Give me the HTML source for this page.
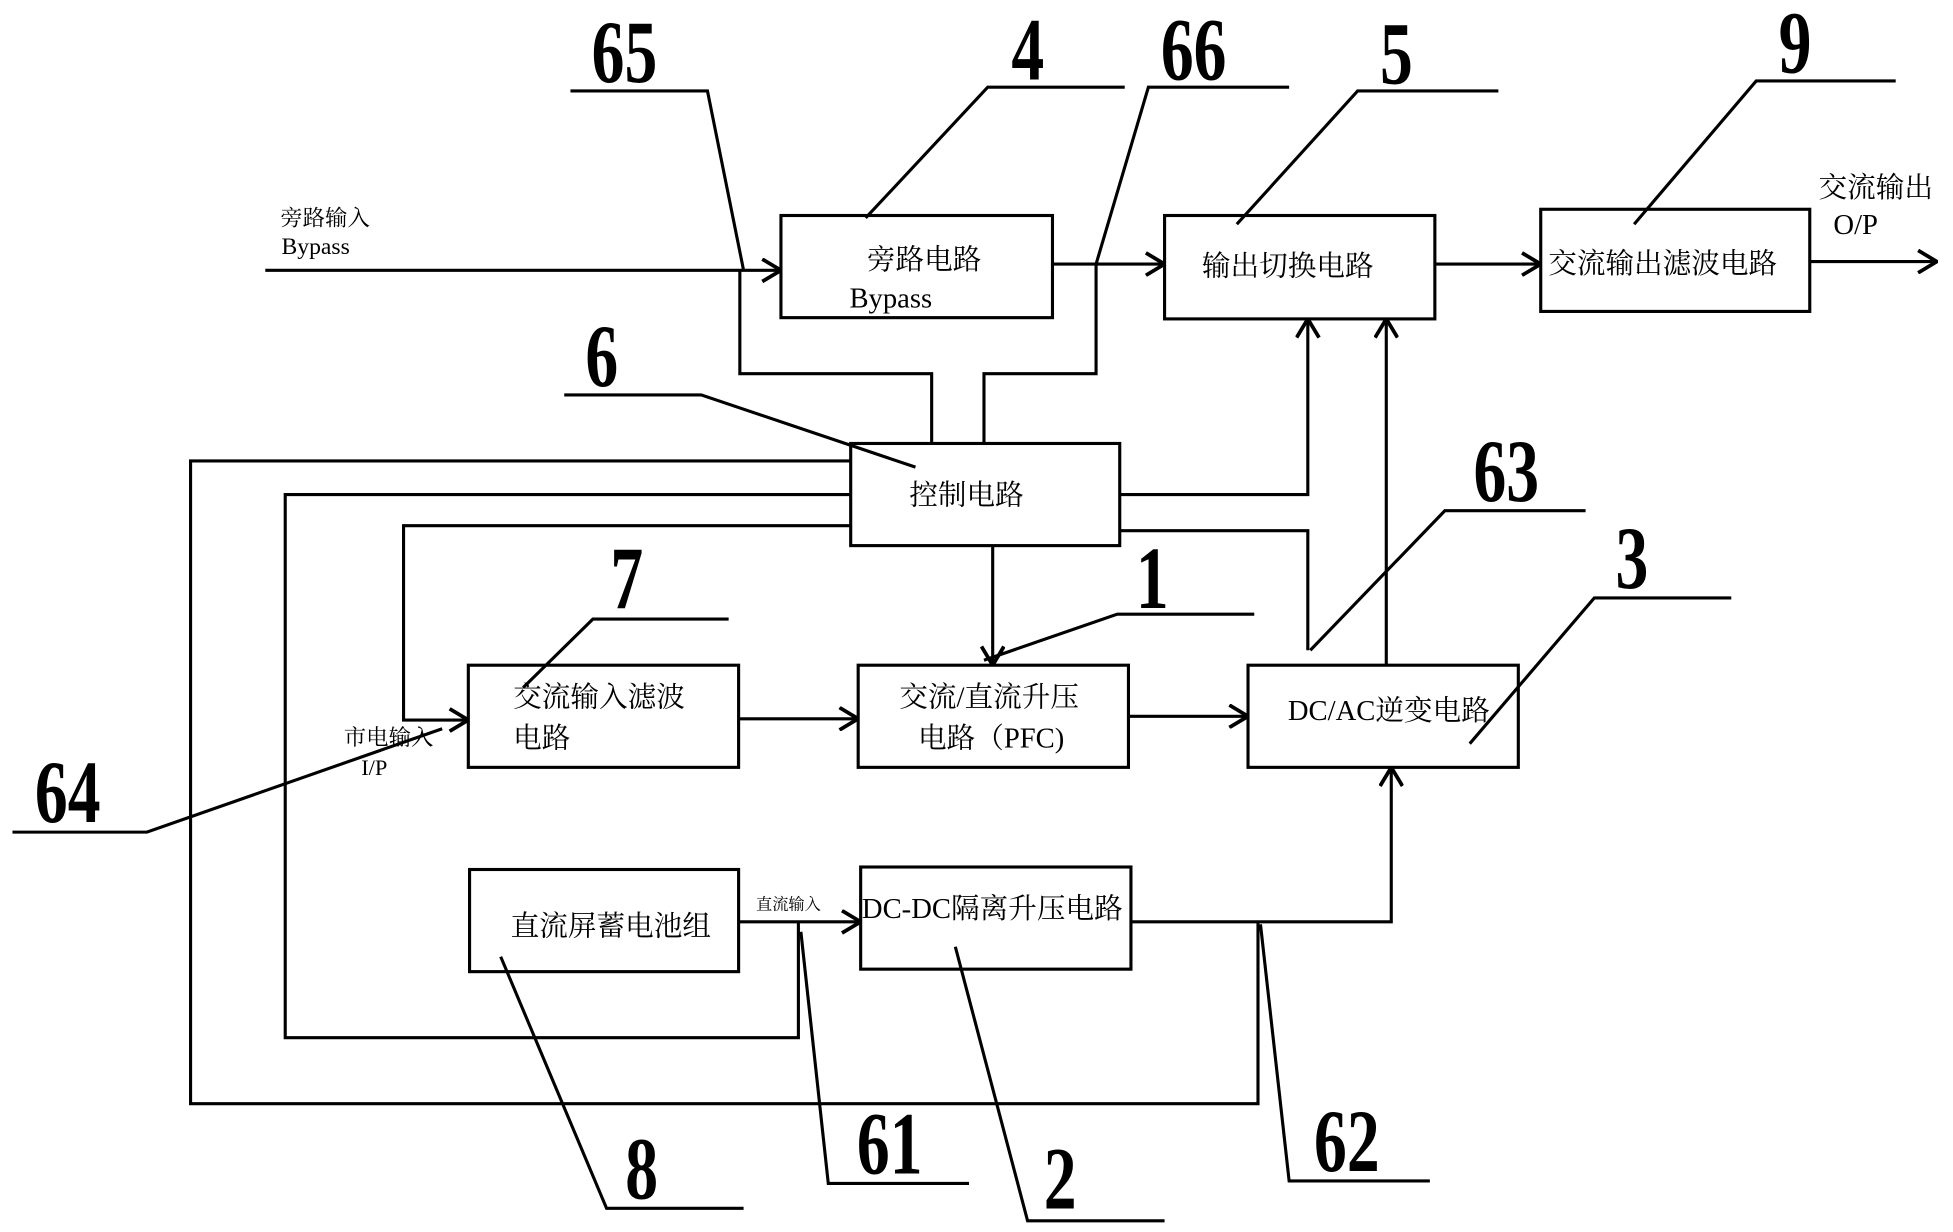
<!DOCTYPE html>
<html><head><meta charset="utf-8"><style>
html,body{margin:0;padding:0;background:#fff;}
svg{display:block;}
text{font-family:"Liberation Serif","Noto Serif CJK SC","Noto Sans CJK SC",serif;fill:#000;}
.n{font-family:"Liberation Serif","DejaVu Serif",serif;font-size:62px;font-weight:bold;}
.t{font-size:23px;}
</style></head><body>
<svg width="1953" height="1232" viewBox="0 0 1568 989" preserveAspectRatio="none" xmlns="http://www.w3.org/2000/svg">
<defs><marker id="a" viewBox="0 0 20 20" refX="19" refY="10" markerWidth="20" markerHeight="20" markerUnits="userSpaceOnUse" orient="auto"><path d="M4,1 L19,10 L4,19" fill="none" stroke="#000" stroke-width="3"/></marker></defs>
<g fill="none" stroke="#000" stroke-width="2.5">
<rect x="627" y="173" width="218" height="82"/>
<rect x="935" y="173" width="217" height="83"/>
<rect x="1237" y="168" width="216" height="82"/>
<rect x="683" y="356" width="216" height="82"/>
<rect x="376" y="534" width="217" height="82"/>
<rect x="689" y="534" width="217" height="82"/>
<rect x="1002" y="534" width="217" height="82"/>
<rect x="377" y="698" width="216" height="82"/>
<rect x="691" y="696" width="217" height="82"/>
<line x1="213" y1="217" x2="627" y2="217" marker-end="url(#a)"/>
<line x1="845" y1="212" x2="935" y2="212" marker-end="url(#a)"/>
<line x1="1152" y1="212" x2="1237" y2="212" marker-end="url(#a)"/>
<line x1="1453" y1="210" x2="1555" y2="210" marker-end="url(#a)"/>
<polyline points="458,73 568,73 597,217"/>
<polyline points="594,217 594,300 748,300 748,356"/>
<polyline points="1035,70 922,70 880,212"/>
<polyline points="880,212 880,300 790,300 790,356"/>
<polyline points="903,70 793,70 695,175"/>
<polyline points="1203,73 1090,73 993,180"/>
<polyline points="1522,65 1410,65 1312,180"/>
<polyline points="453,317 563,317 735,375"/>
<polyline points="899,397 1050,397 1050,256" marker-end="url(#a)"/>
<line x1="1113" y1="534" x2="1113" y2="256" marker-end="url(#a)"/>
<polyline points="899,426 1050,426 1050,522"/>
<polyline points="1273,410 1160,410 1052,522"/>
<line x1="797" y1="438" x2="797" y2="534" marker-end="url(#a)"/>
<polyline points="1007,493 897,493 790,530"/>
<polyline points="1390,480 1280,480 1180,597"/>
<polyline points="585,497 476,497 420,552"/>
<line x1="593" y1="577" x2="689" y2="577" marker-end="url(#a)"/>
<line x1="906" y1="575" x2="1002" y2="575" marker-end="url(#a)"/>
<polyline points="683,370 153,370 153,886 1010,886 1010,740"/>
<polyline points="683,397 229,397 229,833 641,833 641,740"/>
<polyline points="683,422 324,422 324,578 376,578" marker-end="url(#a)"/>
<polyline points="10,668 118,668 355,585"/>
<line x1="593" y1="740" x2="691" y2="740" marker-end="url(#a)"/>
<polyline points="908,740 1117,740 1117,616" marker-end="url(#a)"/>
<polyline points="778,950 665,950 643,748"/>
<polyline points="935,980 825,980 767,760"/>
<polyline points="597,970 487,970 402,768"/>
<polyline points="1148,948 1035,948 1012,742"/>
</g>
<g class="n">
<text class="n" transform="translate(475,66) scale(0.85,1.15)">65</text>
<text class="n" transform="translate(812,64) scale(0.85,1.15)">4</text>
<text class="n" transform="translate(932,64) scale(0.85,1.15)">66</text>
<text class="n" transform="translate(1108,67) scale(0.85,1.15)">5</text>
<text class="n" transform="translate(1428,58) scale(0.85,1.15)">9</text>
<text class="n" transform="translate(470,310) scale(0.85,1.15)">6</text>
<text class="n" transform="translate(1183,402) scale(0.85,1.15)">63</text>
<text class="n" transform="translate(490,488) scale(0.85,1.15)">7</text>
<text class="n" transform="translate(912,488) scale(0.85,1.15)">1</text>
<text class="n" transform="translate(1297,472) scale(0.85,1.15)">3</text>
<text class="n" transform="translate(28,660) scale(0.85,1.15)">64</text>
<text class="n" transform="translate(688,942) scale(0.85,1.15)">61</text>
<text class="n" transform="translate(838,970) scale(0.85,1.15)">2</text>
<text class="n" transform="translate(502,962) scale(0.85,1.15)">8</text>
<text class="n" transform="translate(1055,940) scale(0.85,1.15)">62</text>
</g>
<text x="225" y="181" style="font-size:18px">旁路输入</text>
<text x="226" y="204" style="font-size:19px">Bypass</text>
<text class="t" x="696" y="216">旁路电路</text>
<text class="t" x="682" y="247">Bypass</text>
<text class="t" x="965" y="221">输出切换电路</text>
<text class="t" x="1243" y="219">交流输出滤波电路</text>
<text class="t" x="1460" y="158">交流输出</text>
<text class="t" x="1472" y="188">O/P</text>
<text class="t" x="730" y="405">控制电路</text>
<text class="t" x="412" y="567">交流输入滤波</text>
<text class="t" x="412" y="600">电路</text>
<text class="t" x="722" y="567">交流/直流升压</text>
<text class="t" x="737" y="600">电路（PFC)</text>
<text class="t" x="1034" y="578">DC/AC逆变电路</text>
<text x="276" y="598" style="font-size:18px">市电输入</text>
<text x="290" y="622" style="font-size:18px">I/P</text>
<text class="t" x="410" y="751">直流屏蓄电池组</text>
<text x="607" y="730" style="font-size:13px">直流输入</text>
<text class="t" x="692" y="737">DC-DC隔离升压电路</text>
</svg>
</body></html>
